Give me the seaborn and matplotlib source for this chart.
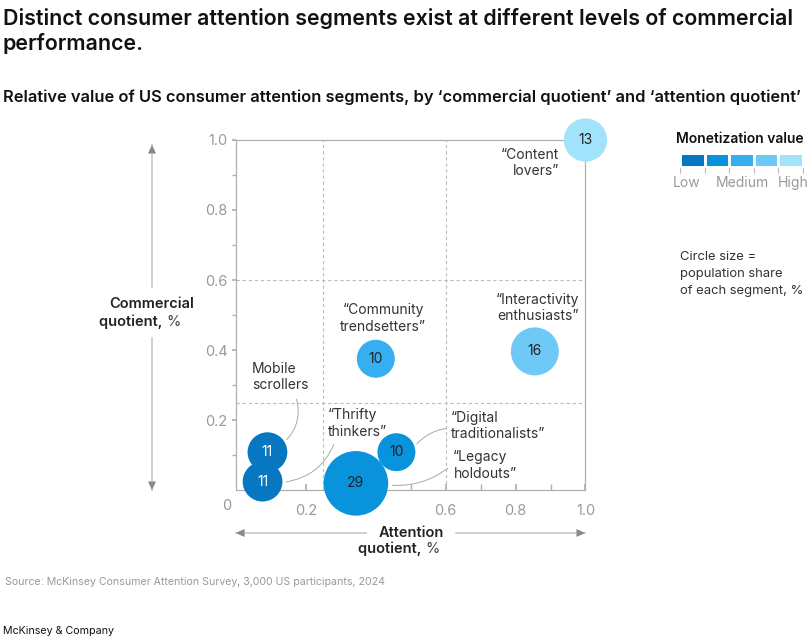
import pandas as pd
import numpy as np
import matplotlib.pyplot as plt
import seaborn as sns
from matplotlib.colors import ListedColormap

segments = ['Content lovers', 'Interactivity enthusiasts', 'Community trendsetters',
            'Mobile scrollers', 'Thrifty thinkers', 'Legacy holdouts', 'Digital traditionalists']
attention = [1.0, 0.855, 0.40, 0.09, 0.076, 0.343, 0.459]
commercial = [1.0, 0.396, 0.375, 0.108, 0.024, 0.019, 0.108]
share = [13, 16, 10, 11, 11, 29, 10]
monetization = [5, 4, 3, 1, 1, 2, 2]

level_colors = ['#0877c1', '#0993dc', '#35afef', '#6fc9f6', '#a0e3fb']
level_names = ['Low', 'Medium', 'High']

df = pd.DataFrame({'segment': segments, 'attention': attention, 'commercial': commercial,
                   'share': share, 'level': monetization})

sns.set_theme(style='white')
plt.rcParams['font.family'] = ['Inter', 'DejaVu Sans']

fig = plt.figure(figsize=(8.1, 6.43), dpi=100)
W, H = 810, 643
ax = fig.add_axes([236 / W, (H - 490) / H, 349.5 / W, 350 / H])

palette = {i + 1: c for i, c in enumerate(level_colors)}
sns.scatterplot(data=df, x='attention', y='commercial', size='share', sizes=(746, 2163),
                size_norm=(10, 29), hue='level', palette=palette, legend=False,
                edgecolor='none', linewidth=0, alpha=1, ax=ax, zorder=4, clip_on=False)

for _, r in df.iterrows():
    col = 'white' if r['level'] == 1 else '#222222'
    ax.text(r['attention'], r['commercial'], str(r['share']), ha='center', va='center',
            fontsize=10, color=col, zorder=5)

ax.set_xlim(0, 1)
ax.set_ylim(0, 1)
for v in (0.25, 0.6):
    ax.axvline(v, color='#bbbbbb', ls=(0, (3, 2.5)), lw=0.8, zorder=1)
    ax.axhline(v, color='#bbbbbb', ls=(0, (3, 2.5)), lw=0.8, zorder=1)

for s in ax.spines.values():
    s.set_color('#b0b0b0')
    s.set_linewidth(0.9)

# 0.4 label sits under the big bubble in the original
ax.set_xticks([0.2, 0.4, 0.6, 0.8, 1.0])
ax.set_xticklabels(['0.2', '', '0.6', '0.8', '1.0'])
ax.set_yticks([0.2, 0.4, 0.6, 0.8, 1.0])
ax.set_yticklabels(['0.2', '0.4', '0.6', '0.8', '1.0'])
ax.set_xticks(np.arange(0.1, 1.0, 0.1), minor=True)
ax.set_yticks(np.arange(0.1, 1.0, 0.1), minor=True)
ax.tick_params(axis='x', which='both', direction='in', length=4, color='#b0b0b0',
               labelsize=10.5, labelcolor='#9a9a9a', pad=10, bottom=True)
ax.tick_params(axis='y', which='both', direction='out', length=3, color='#b0b0b0',
               labelsize=10.5, labelcolor='#9a9a9a', pad=3, left=True)
ax.set_xlabel('')
ax.set_ylabel('')
ax.text(-0.028, -0.045, '0', ha='center', va='center', fontsize=10.5, color='#9a9a9a',
        transform=ax.transAxes)

lab_kw = dict(fontsize=10, color='#333333', linespacing=1.25, zorder=6)
ax.text(0.924, 0.934, '\u201cContent\nlovers\u201d', ha='right', va='center', multialignment='right', **lab_kw)
ax.text(0.864, 0.52, '\u201cInteractivity\nenthusiasts\u201d', ha='center', va='center', **lab_kw)
ax.text(0.421, 0.491, '\u201cCommunity\ntrendsetters\u201d', ha='center', va='center', **lab_kw)
ax.text(0.046, 0.323, 'Mobile\nscrollers', ha='left', va='center', **lab_kw)
ax.text(0.262, 0.189, '\u201cThrifty\nthinkers\u201d', ha='left', va='center', **lab_kw)
ax.text(0.614, 0.183, '\u201cDigital\ntraditionalists\u201d', ha='left', va='center', **lab_kw)
ax.text(0.622, 0.071, '\u201cLegacy\nholdouts\u201d', ha='left', va='center', **lab_kw)

line_kw = dict(arrowstyle='-', color='#a8a8a8', lw=0.7)
ax.annotate('', xy=(0.140, 0.138), xytext=(0.171, 0.267),
            arrowprops=dict(connectionstyle='arc3,rad=-0.3', **line_kw), zorder=3)
ax.annotate('', xy=(0.135, 0.022), xytext=(0.283, 0.138),
            arrowprops=dict(connectionstyle='arc3,rad=-0.3', **line_kw), zorder=3)
ax.annotate('', xy=(0.512, 0.126), xytext=(0.609, 0.177),
            arrowprops=dict(connectionstyle='arc3,rad=0.2', **line_kw), zorder=3)
ax.annotate('', xy=(0.439, 0.014), xytext=(0.612, 0.067),
            arrowprops=dict(connectionstyle='arc3,rad=-0.2', **line_kw), zorder=3)

# axis arrows, split around their labels: light line, darker head
line_only = dict(arrowstyle='-', color='#d0d0d0', lw=1.2, shrinkA=0, shrinkB=0)
head_only = dict(arrowstyle='-|>,head_length=0.5,head_width=0.22', color='#8a8a8a', lw=0.01,
                 shrinkA=0, shrinkB=0)
def fig_arrow(x0, y0, x1, y1):
    for props, start in ((line_only, (x0, y0)), (head_only, (x1 + np.sign(x0 - x1) * 2, y1 + np.sign(y0 - y1) * 2))):
        fig.add_artist(plt.annotate('', xy=(x1, H - y1), xytext=(start[0], H - start[1]),
                                    xycoords='figure pixels', textcoords='figure pixels',
                                    arrowprops=props))
fig_arrow(152, 287, 152, 145)
fig_arrow(152, 338, 152, 490)
fig_arrow(366, 533, 236, 533)
fig_arrow(456, 533, 585, 533)

fig.text(152 / W, (H - 304) / H, 'Commercial', ha='center', va='center', fontsize=10.5,
         color='#222222', fontweight='semibold')
fig.text(166 / W, (H - 322) / H, 'quotient, ', ha='right', va='center', fontsize=10.5,
         color='#222222', fontweight='semibold')
fig.text(166 / W, (H - 322) / H, '%', ha='left', va='center', fontsize=10.5, color='#444444')
fig.text(411 / W, (H - 533) / H, 'Attention', ha='center', va='center', fontsize=10.5,
         color='#222222', fontweight='semibold')
fig.text(425 / W, (H - 549) / H, 'quotient, ', ha='right', va='center', fontsize=10.5,
         color='#222222', fontweight='semibold')
fig.text(425 / W, (H - 549) / H, '%', ha='left', va='center', fontsize=10.5, color='#444444')

# monetization legend
lax = fig.add_axes([680 / W, (H - 167) / H, 123 / W, 14 / H])
sns.heatmap(np.arange(5).reshape(1, 5), cmap=ListedColormap(level_colors), cbar=False,
            linewidths=1, linecolor='white', ax=lax)
lax.set_xticks([])
lax.set_yticks([])
for i in range(6):
    fig.add_artist(plt.Line2D([(680 + i * 24.6) / W] * 2, [(H - 168) / H, (H - 173) / H],
                              color='#bbbbbb', lw=0.8))
for x, t in zip([687, 742, 793], level_names):
    fig.text(x / W, (H - 183) / H, t, ha='center', va='center', fontsize=10, color='#9a9a9a')
fig.text(676 / W, (H - 139) / H, 'Monetization value', ha='left', va='center', fontsize=10,
         fontweight='semibold', color='#111111')
fig.text(680 / W, (H - 274) / H, 'Circle size =\npopulation share\nof each segment, %', ha='left',
         va='center', fontsize=9.4, color='#333333', linespacing=1.55)

fig.text(3 / W, (H - 31) / H, 'Distinct consumer attention segments exist at different levels of commercial\nperformance.',
         ha='left', va='center', fontsize=15.4, fontweight='semibold', color='#111111', linespacing=1.25)
fig.text(3 / W, (H - 97) / H, 'Relative value of US consumer attention segments, by \u2018commercial quotient\u2019 and \u2018attention quotient\u2019',
         ha='left', va='center', fontsize=11.85, fontweight='semibold', color='#111111')
fig.text(5 / W, (H - 582) / H, 'Source: McKinsey Consumer Attention Survey, 3,000 US participants, 2024',
         ha='left', va='center', fontsize=7.6, color='#999999')
fig.text(3 / W, (H - 631) / H, 'McKinsey & Company', ha='left', va='center', fontsize=7.7,
         color='#111111')

fig.savefig('out.png', dpi=100)
